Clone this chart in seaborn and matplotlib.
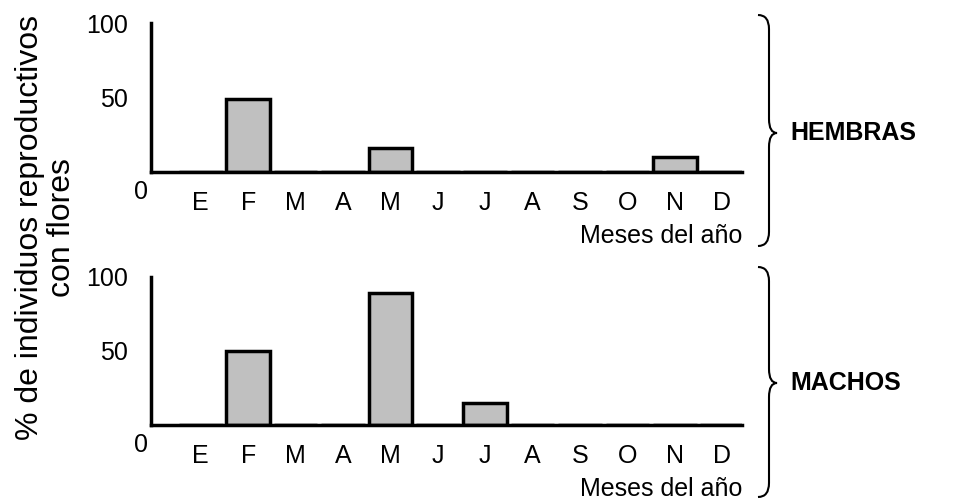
import matplotlib
matplotlib.use("Agg")

import matplotlib.pyplot as plt
import seaborn as sns
import pandas as pd
from matplotlib.path import Path
from matplotlib.patches import PathPatch

# ---------------------------------------------------------
# data

month_labels = ["E", "F", "M", "A", "M", "J", "J", "A", "S", "O", "N", "D"]

hembras = [0, 49, 0, 0, 16, 0, 0, 0, 0, 0, 10, 0]
machos = [0, 50, 0, 0, 89, 0, 15, 0, 0, 0, 0, 0]

panel_names = ["HEMBRAS", "MACHOS"]

# ---------------------------------------------------------

sns.set_style("white")
plt.rcParams["font.family"] = ["Liberation Sans", "DejaVu Sans"]
plt.rcParams["text.color"] = "black"
plt.rcParams["axes.labelcolor"] = "black"

W, H = 975, 504
fig = plt.figure(figsize=(W / 100, H / 100), dpi=100)


def px_box(left, top, right, bottom):
    return [left / W, 1 - bottom / H, (right - left) / W, (bottom - top) / H]


def draw_brace(x_body, x_tip, x_end, y_top, y_mid, y_bot):
    r = 14
    pts = [
        (x_end, y_top),
        (x_body, y_top), (x_body, y_top + r),
        (x_body, y_mid - r),
        (x_body, y_mid), (x_tip, y_mid),
        (x_body, y_mid), (x_body, y_mid + r),
        (x_body, y_bot - r),
        (x_body, y_bot), (x_end, y_bot),
    ]
    codes = [
        Path.MOVETO,
        Path.CURVE3, Path.CURVE3,
        Path.LINETO,
        Path.CURVE3, Path.CURVE3,
        Path.CURVE3, Path.CURVE3,
        Path.LINETO,
        Path.CURVE3, Path.CURVE3,
    ]
    verts = [(x / W, 1 - y / H) for x, y in pts]
    patch = PathPatch(Path(verts, codes), transform=fig.transFigure,
                      facecolor="none", edgecolor="black", linewidth=1.5)
    fig.patches.append(patch)


boxes = [px_box(151, 23, 742, 172), px_box(151, 277, 742, 425)]
braces = [(15, 133, 246), (267, 383, 497)]

for values, name, box, (b_top, b_mid, b_bot) in zip(
        [hembras, machos], panel_names, boxes, braces):

    ax = fig.add_axes(box)

    df = pd.DataFrame({"mes": range(12), "pct": values})

    sns.barplot(
        data=df,
        x="mes",
        y="pct",
        color="#c0c0c0",
        saturation=1,
        edgecolor="black",
        linewidth=2.5,
        width=0.92,
        ax=ax
    )

    ax.set_xlim(-1.05, 11.42)
    ax.set_ylim(0, 100)

    ax.set_xticks(range(12), month_labels)
    ax.set_yticks([50, 100], ["50", "100"])

    for side in ["top", "right"]:
        ax.spines[side].set_visible(False)
    for side in ["left", "bottom"]:
        ax.spines[side].set_linewidth(2.5)
        ax.spines[side].set_color("black")

    ax.tick_params(axis="y", direction="out", length=9.5, width=2.5,
                   pad=7, labelsize=18, colors="black")
    ax.tick_params(axis="x", direction="out", length=7, width=2.5,
                   pad=7, labelsize=18, colors="black")

    ax.set_ylabel("")
    ax.set_xlabel("Meses del año", loc="right", fontsize=18, labelpad=6,
                  color="black")

    ax.annotate("0", xy=(0, 0), xycoords="axes fraction",
                xytext=(-2, -6), textcoords="offset points",
                ha="right", va="top", fontsize=18, color="black")

    draw_brace(769, 777, 758, b_top, b_mid, b_bot)

    fig.text(790 / W, 1 - b_mid / H, name, ha="left", va="center",
             fontsize=18, fontweight="bold", color="black")

fig.text(46 / W, 1 - 228 / H, "% de individuos reproductivos\ncon flores",
         rotation=90, ha="center", va="center", multialignment="center",
         fontsize=23, linespacing=1.1, color="black")

fig.savefig("out.png", dpi=100)
plt.close(fig)
